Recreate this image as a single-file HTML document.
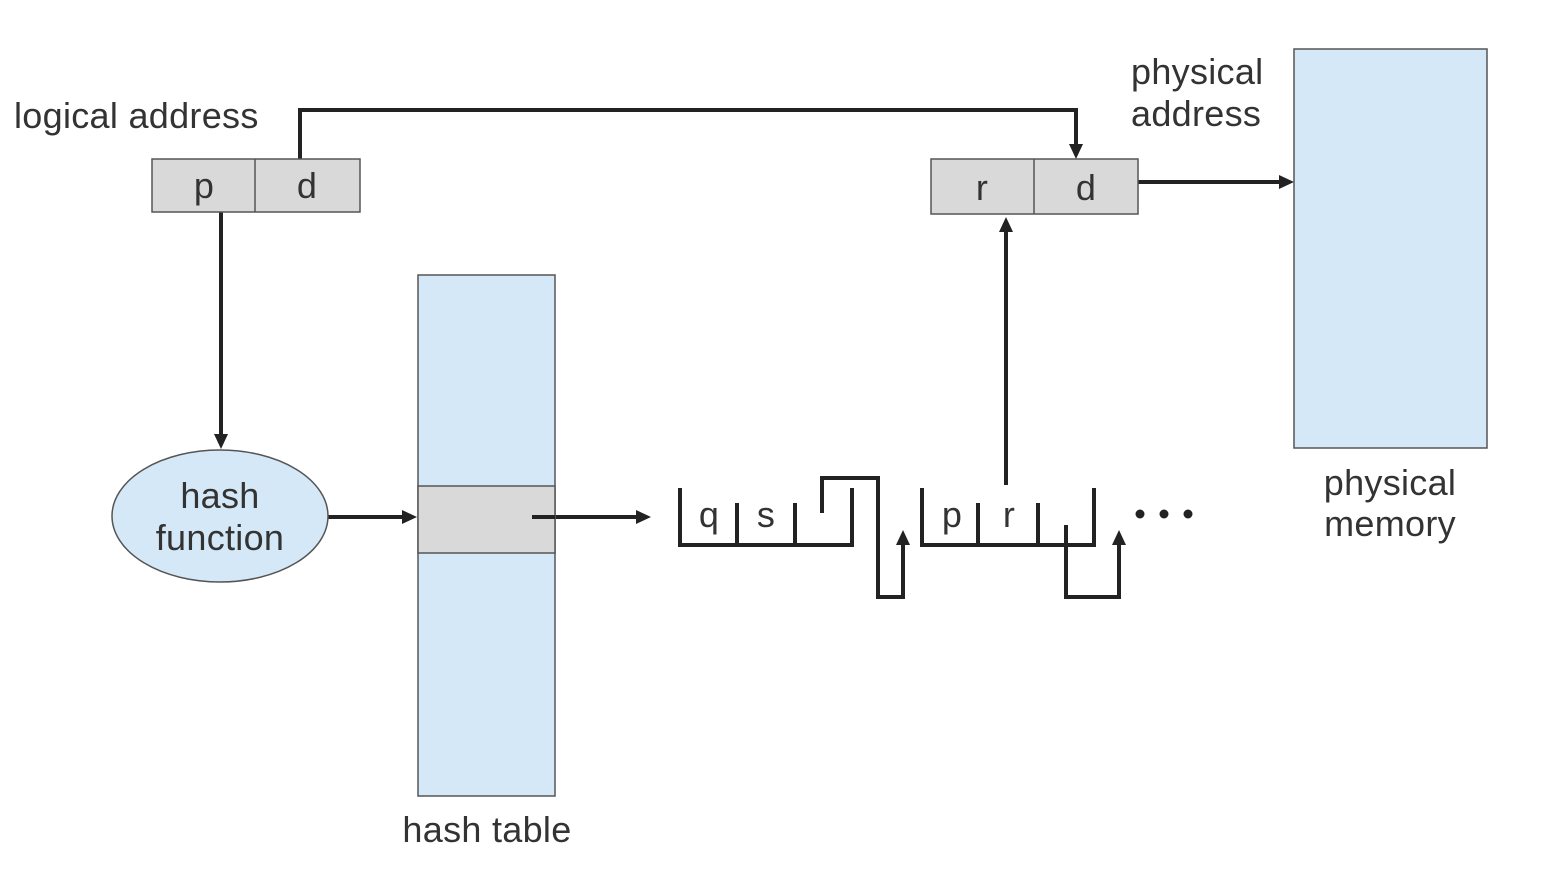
<!DOCTYPE html>
<html><head><style>body{margin:0;background:#fff}svg{display:block}text{font-family:"Liberation Sans",sans-serif;fill:#333}</style></head><body>
<svg width="1550" height="884" viewBox="0 0 1550 884">
<g stroke="#222" stroke-width="4" fill="none">
<polyline points="300,159 300,110 1076,110 1076,146"/>
<line x1="221" y1="212" x2="221" y2="436"/>
<line x1="328" y1="517" x2="404" y2="517"/>
<line x1="532" y1="517" x2="638" y2="517"/>
<line x1="1138" y1="182" x2="1281" y2="182"/>
<line x1="1006" y1="485" x2="1006" y2="230"/>
<polyline points="680,488 680,545 852,545 852,488"/>
<line x1="737" y1="503" x2="737" y2="545"/><line x1="795" y1="503" x2="795" y2="545"/>
<polyline points="822,513 822,478 878,478 878,597 903,597 903,543"/>
<polyline points="922,488 922,545 1094,545 1094,488"/>
<line x1="978" y1="503" x2="978" y2="545"/><line x1="1038" y1="503" x2="1038" y2="545"/>
<polyline points="1066,525 1066,597 1119,597 1119,543"/>
</g>
<g fill="#222">
<path d="M214,434L228,434L221,449z"/>
<path d="M402,510L402,524L417,517z"/>
<path d="M636,510L636,524L651,517z"/>
<path d="M1279,175L1279,189L1294,182z"/>
<path d="M1069,144L1083,144L1076,159z"/>
<path d="M999,232L1013,232L1006,217z"/>
<path d="M896,545L910,545L903,530z"/>
<path d="M1112,545L1126,545L1119,530z"/>
<circle cx="1140" cy="514" r="4.5"/><circle cx="1164" cy="514" r="4.5"/><circle cx="1188" cy="514" r="4.5"/>
</g>
<g stroke="#555" stroke-width="1.5">
<rect x="152" y="159" width="208" height="53" fill="#d9d9d9"/><line x1="255" y1="159" x2="255" y2="212"/>
<rect x="931" y="159" width="207" height="55" fill="#d9d9d9"/><line x1="1034" y1="159" x2="1034" y2="214"/>
<rect x="1294" y="49" width="193" height="399" fill="#d4e8f7"/>
<rect x="418" y="275" width="137" height="521" fill="#d4e8f7"/>
<rect x="418" y="486" width="137" height="67" fill="#d9d9d9"/>
<ellipse cx="220" cy="516" rx="108" ry="66" fill="#d4e8f7"/>
</g>
<line x1="532" y1="517" x2="555" y2="517" stroke="#222" stroke-width="4"/>
<g font-size="36" letter-spacing="0.3">
<text x="14" y="128">logical address</text>
<text x="204" y="198" text-anchor="middle">p</text><text x="307" y="198" text-anchor="middle">d</text>
<text x="982" y="200" text-anchor="middle">r</text><text x="1086" y="200" text-anchor="middle">d</text>
<text x="1131" y="84">physical</text><text x="1131" y="126">address</text>
<text x="1390" y="495" text-anchor="middle">physical</text><text x="1390" y="536" text-anchor="middle">memory</text>
<text x="220" y="508" text-anchor="middle">hash</text><text x="220" y="550" text-anchor="middle">function</text>
<text x="487" y="842" text-anchor="middle">hash table</text>
<text x="709" y="527" text-anchor="middle">q</text><text x="766" y="527" text-anchor="middle">s</text>
<text x="952" y="527" text-anchor="middle">p</text><text x="1009" y="527" text-anchor="middle">r</text>
</g>
</svg>
</body></html>
